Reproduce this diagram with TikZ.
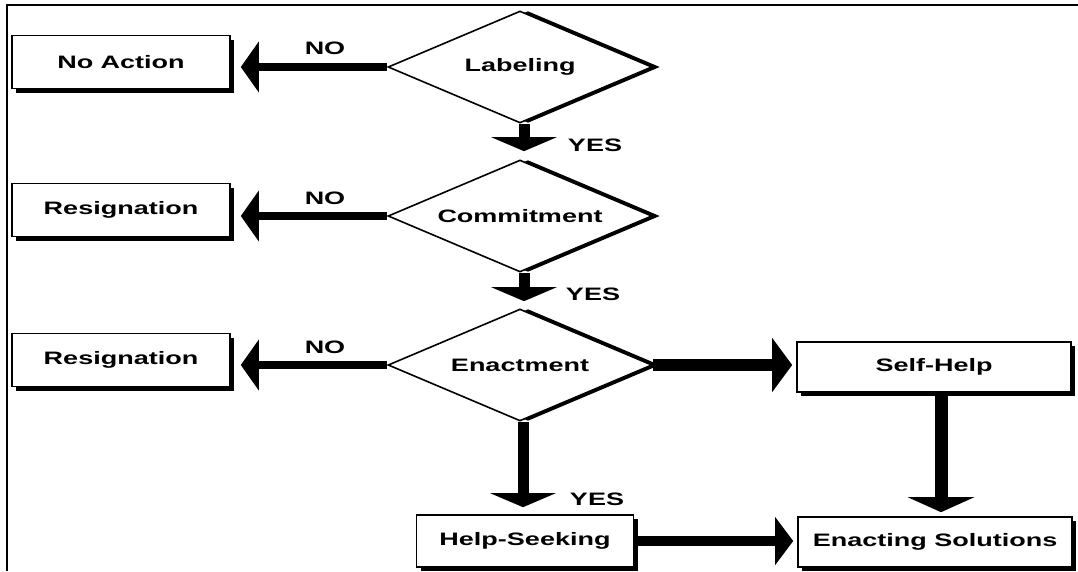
\documentclass[tikz,border=0pt]{standalone}
\usepackage{fontspec}
\newfontfamily\labfont[FakeStretch=1.5]{Liberation Sans}
\usetikzlibrary{shapes.geometric,shadows,arrows.meta,calc}
\tikzset{
  txt/.style={font=\labfont\bfseries\fontsize{18}{20}\selectfont, inner sep=0pt},
  box/.style={txt, draw, line width=1.6pt, fill=white, minimum height=53pt,
    drop shadow={shadow xshift=4pt, shadow yshift=-4pt, fill=black, opacity=1}},
  dia/.style={txt, diamond, aspect=4, draw, line width=1.6pt, fill=white,
    minimum width=264pt, minimum height=112pt,
    drop shadow={shadow xshift=8pt, shadow yshift=0pt, fill=black, opacity=1}},
  noarr/.style={line width=8pt, -{Triangle[length=18pt, width=50pt]}, shorten >=10pt},
  yesarr/.style={line width=11pt, -{Triangle[length=14pt, width=65pt]}},
  rightarr/.style={line width=11pt, -{Triangle[length=19pt, width=50pt]}, shorten >=4pt},
  frameline/.style={line width=2.2pt}
}
\begin{document}
\begin{tikzpicture}[x=1pt,y=-1pt]
\useasboundingbox (0,0) rectangle (1078,571);
\fill[white] (0,0) rectangle (1078,571);
% frame (top and left only)
\coordinate (ftr) at (1078,5);
\coordinate (ftl) at (7,5);
\coordinate (fbl) at (7,571);
\draw[frameline] (ftr) -- (ftl) -- (fbl);

% decisions
\node[dia] (lab) at (520,67) {Labeling};
\node[dia] (com) at (520,216) {Commitment};
\node[dia] (ena) at (520,365) {Enactment};

% outcome boxes
\node[box, minimum width=218pt] (noact) at (121,62) {No Action};
\node[box, minimum width=218pt] (res1) at (121,210) {Resignation};
\node[box, minimum width=218pt] (res2) at (121,360) {Resignation};
\node[box, minimum width=274pt, minimum height=50pt] (self) at (934,367) {Self-Help};
\node[box, minimum width=217pt, minimum height=52pt] (help) at (525,541) {Help-Seeking};
\node[box, minimum width=274pt, minimum height=50pt] (ensol) at (935,542) {Enacting Solutions};

% NO arrows
\draw[noarr] (lab.west) -- (lab.west -| noact.east);
\draw[noarr] (com.west) -- (com.west -| res1.east);
\draw[noarr] (ena.west) -- (ena.west -| res2.east);

% YES arrows
\coordinate (y1s) at ($(lab.south)+(4,0)$);
\coordinate (y1e) at ($(com.north)+(4,0)$);
\draw[yesarr, shorten >=8pt] (y1s) -- (y1e);
\coordinate (y2s) at ($(com.south)+(4,0)$);
\coordinate (y2e) at ($(ena.north)+(4,0)$);
\draw[yesarr, shorten >=7pt] (y2s) -- (y2e);
\coordinate (y3s) at ($(ena.south)+(3,0)$);
\coordinate (y3e) at ($(help.north)+(0,0)$);
\draw[yesarr, shorten >=7pt] (y3s) -- (y3s |- y3e);

% right-hand arrows
\draw[rightarr, line width=12pt, -{Triangle[length=20pt, width=53pt]}] (ena.east) -- (ena.east -| self.west);
\draw[rightarr, line width=10pt, -{Triangle[length=18pt, width=47pt]}] (help.east) -- (help.east -| ensol.west);
\coordinate (shs) at ($(self.south)+(7,0)$);
\draw[line width=13pt, -{Triangle[length=15pt, width=66pt]}, shorten >=4pt] (shs) -- (shs |- ensol.north);

% labels
\node[txt] (no1) at (325,48) {NO};
\node[txt] (no2) at (325,198) {NO};
\node[txt] (no3) at (325,347) {NO};
\node[txt] (yes1) at (595,145) {YES};
\node[txt] (yes2) at (593,294) {YES};
\node[txt] (yes3) at (597,499) {YES};
\end{tikzpicture}
\end{document}
